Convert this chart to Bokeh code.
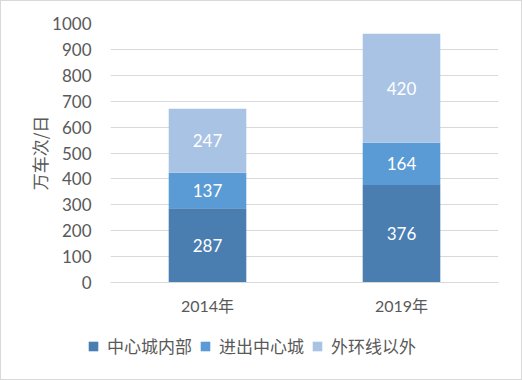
from bokeh.plotting import figure
from bokeh.layouts import column, row
from bokeh.models import ColumnDataSource, FactorRange, Legend, LegendItem, Range1d, SingleIntervalTicker
from bokeh.core.properties import value
from bokeh.embed import file_html
from bokeh.resources import INLINE

years = ["2014年", "2019年"]
inner = [287, 376]
cross = [137, 164]
outer = [247, 420]
series = ["中心城内部", "进出中心城", "外环线以外"]
colors = ["#4A7EB1", "#5B9BD5", "#A9C3E5"]
y_ticks_step = 100
y_max = 1000

NUM_FONT = "Lato, 'Noto Sans CJK SC'"
CJK_FONT = "Noto Sans CJK SC"

src = ColumnDataSource(dict(years=years, inner=inner, cross=cross, outer=outer))

p = figure(x_range=FactorRange(*years), y_range=Range1d(0, y_max),
           width=520, height=325, output_backend="svg", toolbar_location=None,
           min_border_left=109, min_border_right=23, min_border_top=22, min_border_bottom=44)

renderers = p.vbar_stack(["inner", "cross", "outer"], x="years", width=0.4, color=colors,
                         source=src, line_color=None)

# value labels
lab_x, lab_y, lab_t = [], [], []
for i, yr in enumerate(years):
    base = 0
    for vals in (inner, cross, outer):
        v = vals[i]
        lab_x.append(yr)
        lab_y.append(base + v / 2)
        lab_t.append(str(v))
        base += v
p.text(x=lab_x, y=lab_y, text=lab_t, text_color="white", text_align="center",
       text_baseline="middle", text_font=value("Lato"), text_font_size="17px")

p.outline_line_color = None
p.xgrid.grid_line_color = None
p.ygrid.grid_line_color = "#D9D9D9"
p.ygrid.grid_line_width = 1

p.yaxis.ticker = SingleIntervalTicker(interval=y_ticks_step)
p.yaxis.axis_line_color = None
p.yaxis.major_tick_line_color = None
p.yaxis.minor_tick_line_color = None
p.yaxis.major_label_text_font = "Lato"
p.yaxis.major_label_text_font_size = "17px"
p.yaxis.major_label_text_color = "#595959"
p.yaxis.major_label_standoff = 13
p.yaxis.axis_label = "万车次/日"
p.yaxis.axis_label_text_font = CJK_FONT
p.yaxis.axis_label_text_font_size = "17px"
p.yaxis.axis_label_text_font_style = "normal"
p.yaxis.axis_label_text_color = "#595959"
p.yaxis.axis_label_standoff = -3

p.xaxis.axis_line_color = "#D9D9D9"
p.xaxis.axis_line_width = 1
p.xaxis.major_tick_line_color = None
p.xaxis.minor_tick_line_color = None
p.xaxis.major_label_text_font = NUM_FONT
p.xaxis.major_label_text_font_size = "16px"
p.xaxis.major_label_text_color = "#595959"
p.xaxis.major_label_standoff = 7

# legend strip
p2 = figure(width=520, height=53, output_backend="svg", toolbar_location=None,
            x_axis_type=None, y_axis_type=None, min_border=0,
            x_range=Range1d(0, 1), y_range=Range1d(0, 1))
p2.outline_line_color = None
p2.xgrid.grid_line_color = None
p2.ygrid.grid_line_color = None
dummy = [p2.vbar(x=[5], top=[5], bottom=[4], width=0.1, color=c, line_color=None) for c in colors]
legend = Legend(items=[LegendItem(label=s, renderers=[r]) for s, r in zip(series, dummy)],
                orientation="horizontal", location=(86, 21),
                padding=0, margin=0, spacing=7, label_standoff=8,
                glyph_width=12, glyph_height=12, label_height=20,
                border_line_color=None, background_fill_alpha=0,
                label_text_font=CJK_FONT, label_text_font_size="17px",
                label_text_color="#595959")
p2.add_layout(legend)

layout = column(p, row(p2, spacing=0), spacing=0, styles={"border": "1px solid #d9d9d9"})

open("out.html", "w").write(file_html(layout, INLINE))
